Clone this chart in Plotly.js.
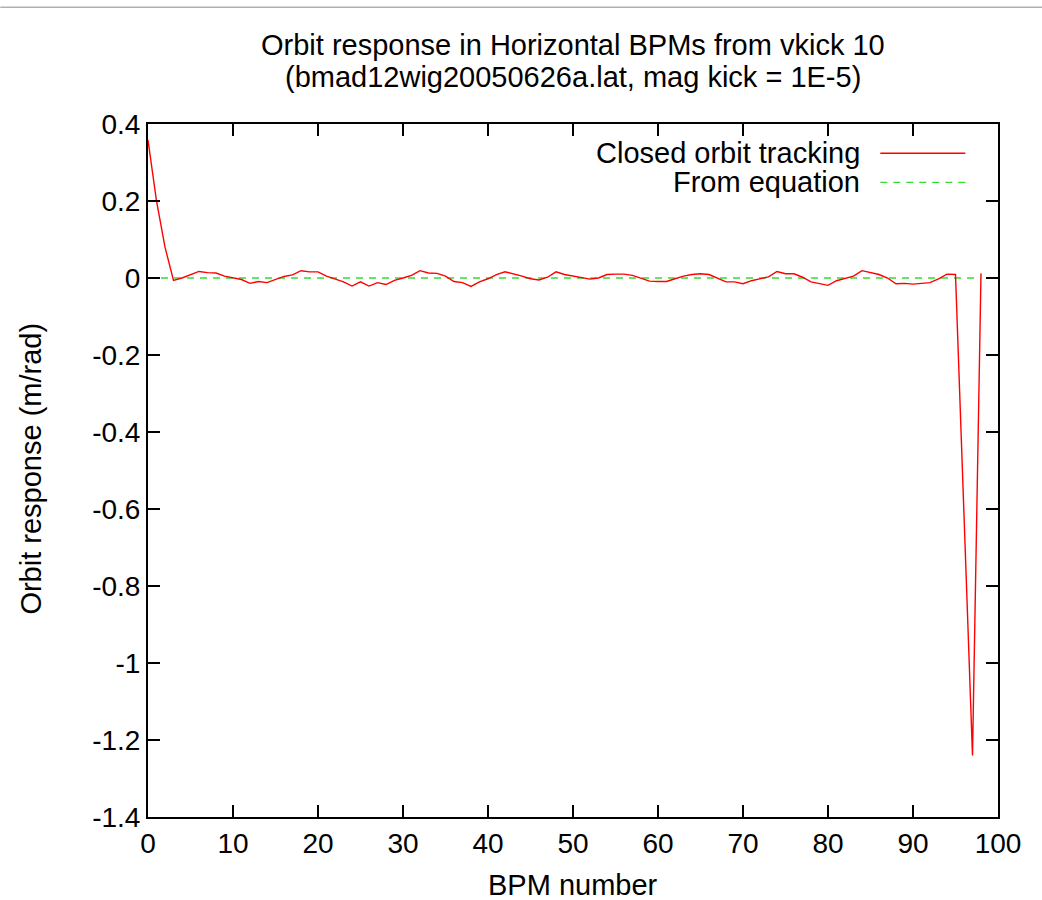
<!DOCTYPE html>
<html>
<head>
<meta charset="utf-8">
<script src="https://cdn.plot.ly/plotly-3.0.1.min.js"></script>
<style>
  html, body { margin: 0; padding: 0; background: #ffffff; }
  #chart { width: 1042px; height: 900px; }
</style>
</head>
<body>
<div id="chart"></div>
<script>
// ---- data ----
const bpmNumber = [
  0, 1, 2, 3, 4, 5, 6, 7, 8, 9,
  10, 11, 12, 13, 14, 15, 16, 17, 18, 19,
  20, 21, 22, 23, 24, 25, 26, 27, 28, 29,
  30, 31, 32, 33, 34, 35, 36, 37, 38, 39,
  40, 41, 42, 43, 44, 45, 46, 47, 48, 49,
  50, 51, 52, 53, 54, 55, 56, 57, 58, 59,
  60, 61, 62, 63, 64, 65, 66, 67, 68, 69,
  70, 71, 72, 73, 74, 75, 76, 77, 78, 79,
  80, 81, 82, 83, 84, 85, 86, 87, 88, 89,
  90, 91, 92, 93, 94, 95, 96, 97, 98
];

const closedOrbitTracking = [
  0.358, 0.200, 0.080, -0.006, 0.000, 0.008, 0.017, 0.014, 0.013, 0.005,
  0.000, -0.004, -0.014, -0.009, -0.012, -0.003, 0.004, 0.008, 0.019, 0.016,
  0.016, 0.005, -0.002, -0.010, -0.021, -0.010, -0.021, -0.012, -0.017, -0.006,
  0.000, 0.007, 0.019, 0.013, 0.012, 0.005, -0.009, -0.012, -0.022, -0.010,
  -0.002, 0.009, 0.016, 0.011, 0.005, -0.002, -0.005, 0.002, 0.016, 0.009,
  0.005, 0.002, -0.003, 0.000, 0.009, 0.010, 0.010, 0.007, 0.000, -0.008,
  -0.009, -0.009, -0.002, 0.005, 0.009, 0.011, 0.009, 0.000, -0.010, -0.010,
  -0.015, -0.007, -0.002, 0.003, 0.017, 0.011, 0.011, 0.002, -0.010, -0.014,
  -0.019, -0.007, -0.002, 0.005, 0.019, 0.014, 0.009, 0.000, -0.015, -0.014,
  -0.016, -0.014, -0.012, -0.002, 0.010, 0.009, -0.615, -1.240, 0.012
];

const fromEquation = [
  0, 0, 0, 0, 0, 0, 0, 0, 0, 0,
  0, 0, 0, 0, 0, 0, 0, 0, 0, 0,
  0, 0, 0, 0, 0, 0, 0, 0, 0, 0,
  0, 0, 0, 0, 0, 0, 0, 0, 0, 0,
  0, 0, 0, 0, 0, 0, 0, 0, 0, 0,
  0, 0, 0, 0, 0, 0, 0, 0, 0, 0,
  0, 0, 0, 0, 0, 0, 0, 0, 0, 0,
  0, 0, 0, 0, 0, 0, 0, 0, 0, 0,
  0, 0, 0, 0, 0, 0, 0, 0, 0, 0,
  0, 0, 0, 0, 0, 0, 0, 0, 0
];

const seriesNames = ["Closed orbit tracking", "From equation"];

const xTickVals = [0, 10, 20, 30, 40, 50, 60, 70, 80, 90, 100];
const xTickText = ["0", "10", "20", "30", "40", "50", "60", "70", "80", "90", "100"];
const yTickVals = [0.4, 0.2, 0, -0.2, -0.4, -0.6, -0.8, -1, -1.2, -1.4];
const yTickText = ["0.4", "0.2", "0", "-0.2", "-0.4", "-0.6", "-0.8", "-1", "-1.2", "-1.4"];

const titleLine1 = "Orbit response in Horizontal BPMs from vkick 10";
const titleLine2 = "(bmad12wig20050626a.lat, mag kick = 1E-5)";
const xTitle = "BPM number";
const yTitle = "Orbit response (m/rad)";

// ---- styling ----
const FONT = "Liberation Sans, Arial, Helvetica, sans-serif";
const RED = "#ff0000";
const GREEN = "#33dd33";
const TXT = 29;

// plot area in pixels (for placing the free texts)
const PL = 147.7, PR = 997.7, PT = 123.7, PB = 816.7;
const px = v => (v - PL) / (PR - PL);
const py = v => (PB - v) / (PB - PT);

const traces = [
  {
    x: bpmNumber, y: fromEquation, name: seriesNames[1],
    type: "scatter", mode: "lines",
    line: { color: GREEN, width: 1.3, dash: "7px,6px" },
    hoverinfo: "skip"
  },
  {
    x: bpmNumber, y: closedOrbitTracking, name: seriesNames[0],
    type: "scatter", mode: "lines",
    line: { color: RED, width: 1.4 }
  }
];

const axisCommon = {
  showgrid: false, zeroline: false,
  showline: true, linecolor: "#000", linewidth: 2, mirror: "ticks",
  ticks: "inside", ticklen: 12, tickwidth: 1.5, tickcolor: "#000",
  tickfont: { family: FONT, size: 28, color: "#000" }
};

const layout = {
  width: 1042, height: 900,
  paper_bgcolor: "#ffffff", plot_bgcolor: "#ffffff",
  margin: { l: 148, r: 44, t: 124, b: 83, autoexpand: false },
  showlegend: false,
  font: { family: FONT, color: "#000" },
  xaxis: Object.assign({}, axisCommon, {
    range: [0, 100], tickmode: "array", tickvals: xTickVals, ticktext: xTickText
  }),
  yaxis: Object.assign({}, axisCommon, {
    range: [-1.4, 0.4], tickmode: "array", tickvals: yTickVals, ticktext: yTickText
  }),
  annotations: [
    {
      text: titleLine1, showarrow: false,
      xref: "paper", x: 0.5, xanchor: "center",
      yref: "paper", y: py(45), yanchor: "middle",
      font: { family: FONT, size: TXT, color: "#000" }
    },
    {
      text: titleLine2, showarrow: false,
      xref: "paper", x: 0.5, xanchor: "center",
      yref: "paper", y: py(77), yanchor: "middle",
      font: { family: FONT, size: TXT, color: "#000" }
    },
    {
      text: xTitle, showarrow: false,
      xref: "paper", x: 0.5, xanchor: "center",
      yref: "paper", y: py(885), yanchor: "middle",
      font: { family: FONT, size: TXT, color: "#000" }
    },
    {
      text: yTitle, showarrow: false, textangle: -90,
      xref: "paper", x: px(31), xanchor: "center",
      yref: "paper", y: py(468), yanchor: "middle",
      font: { family: FONT, size: TXT, color: "#000" }
    },
    {
      text: seriesNames[0], showarrow: false,
      xref: "paper", x: px(862), xanchor: "right",
      yref: "paper", y: py(153), yanchor: "middle",
      font: { family: FONT, size: TXT, color: "#000" }
    },
    {
      text: seriesNames[1], showarrow: false,
      xref: "paper", x: px(862), xanchor: "right",
      yref: "paper", y: py(182), yanchor: "middle",
      font: { family: FONT, size: TXT, color: "#000" }
    }
  ],
  shapes: [
    // legend samples
    {
      type: "line", xref: "paper", yref: "paper",
      x0: px(880), x1: px(965), y0: py(153), y1: py(153),
      line: { color: RED, width: 1.4 }
    },
    {
      type: "line", xref: "paper", yref: "paper",
      x0: px(880), x1: px(965), y0: py(182), y1: py(182),
      line: { color: GREEN, width: 1.3, dash: "7px,6px" }
    },
    // thin grey page rule at the very top
    {
      type: "line", xref: "paper", yref: "paper",
      x0: px(0), x1: px(1042), y0: py(7), y1: py(7),
      line: { color: "#b0b0b0", width: 1.5 }
    }
  ]
};

Plotly.newPlot("chart", traces, layout, { displayModeBar: false, staticPlot: true });
</script>
</body>
</html>
